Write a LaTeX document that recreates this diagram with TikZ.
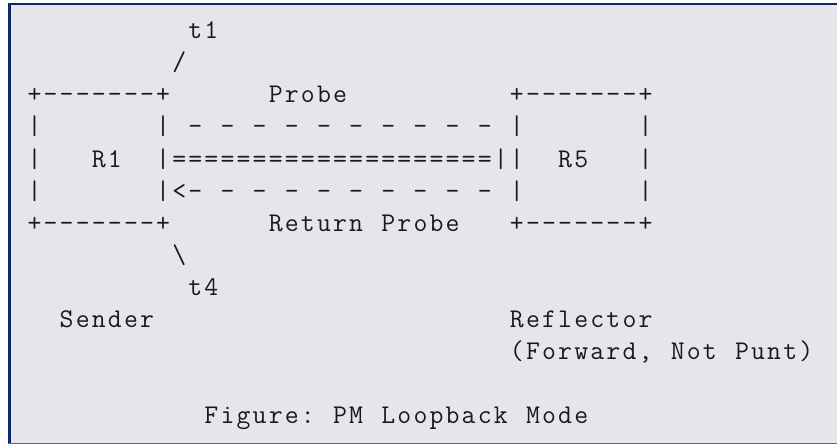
\documentclass[tikz,border=0pt]{standalone}
\usepackage{fontspec}
\definecolor{bgray}{RGB}{229,230,233}
\definecolor{navy}{RGB}{12,40,104}
\definecolor{lowline}{RGB}{88,106,150}
\definecolor{ink}{RGB}{25,25,25}
% every character in a fixed cell, like a terminal grid
\def\gridchars#1{\gridloop#1\relax}
\def\gridloop#1{\ifx#1\relax\else\makebox[16.08pt][c]{#1}\expandafter\gridloop\fi}
\begin{document}
\begin{tikzpicture}[x=1pt,y=-1pt,
  txt/.style={anchor=base west,inner sep=0pt,outer sep=0pt,text=ink,
    font=\ttfamily\fontsize{27pt}{32pt}\selectfont}]
\useasboundingbox (0,0) rectangle (838,444);
% frame
\fill[white] (0,0) rectangle (838,444);
\fill[bgray] (8,3) rectangle (837,444);
\fill[navy] (8,3) rectangle (837,5);
\fill[navy] (8,3) rectangle (11,444);
\fill[lowline] (8,443) rectangle (837,444);
% row 0-1
\node[txt] (t1) at (187.3,38.6) {\gridchars{t1}};
\node[txt] (s1) at (171.22,70.7) {\gridchars{/}};
% row 2
\node[txt] (r1top) at (26.5,102.8) {\gridchars{+-------+}};
\node[txt] (probe) at (267.7,102.8) {\gridchars{Probe}};
\node[txt] (r5top) at (508.9,102.8) {\gridchars{+-------+}};
% row 3
\node[txt] (a3) at (26.5,134.9) {\gridchars{|}};
\node[txt] (b3) at (155.14,134.9) {\gridchars{|}};
\node[txt] (fwd) at (187.3,134.9) {\gridchars{-~-~-~-~-~-~-~-~-~-}};
\node[txt] (c3) at (508.9,134.9) {\gridchars{|}};
\node[txt] (d3) at (637.54,134.9) {\gridchars{|}};
% row 4
\node[txt] (a4) at (26.5,167) {\gridchars{|}};
\node[txt] (R1) at (90.82,167) {\gridchars{R1}};
\node[txt] (link) at (155.14,167) {\gridchars{|====================||}};
\node[txt] (R5) at (557.14,167) {\gridchars{R5}};
\node[txt] (d4) at (637.54,167) {\gridchars{|}};
% row 5
\node[txt] (a5) at (26.5,199.1) {\gridchars{|}};
\node[txt] (ret) at (155.14,199.1) {\gridchars{|<-~-~-~-~-~-~-~-~-~-}};
\node[txt] (c5) at (508.9,199.1) {\gridchars{|}};
\node[txt] (d5) at (637.54,199.1) {\gridchars{|}};
% row 6
\node[txt] (r1bot) at (26.5,231.2) {\gridchars{+-------+}};
\node[txt] (rprobe) at (267.7,231.2) {\gridchars{Return~Probe}};
\node[txt] (r5bot) at (508.9,231.2) {\gridchars{+-------+}};
% row 7-8
\node[txt] (s2) at (171.22,263.3) {\gridchars{\textbackslash}};
\node[txt] (t4) at (187.3,295.4) {\gridchars{t4}};
% labels
\node[txt] (sender) at (58.66,327.5) {\gridchars{Sender}};
\node[txt] (refl) at (508.9,327.5) {\gridchars{Reflector}};
\node[txt] (refl2) at (508.9,359.6) {\gridchars{(Forward,~Not~Punt)}};
\node[txt] (cap) at (203.38,423.8) {\gridchars{Figure:~PM~Loopback~Mode}};
\end{tikzpicture}
\end{document}
